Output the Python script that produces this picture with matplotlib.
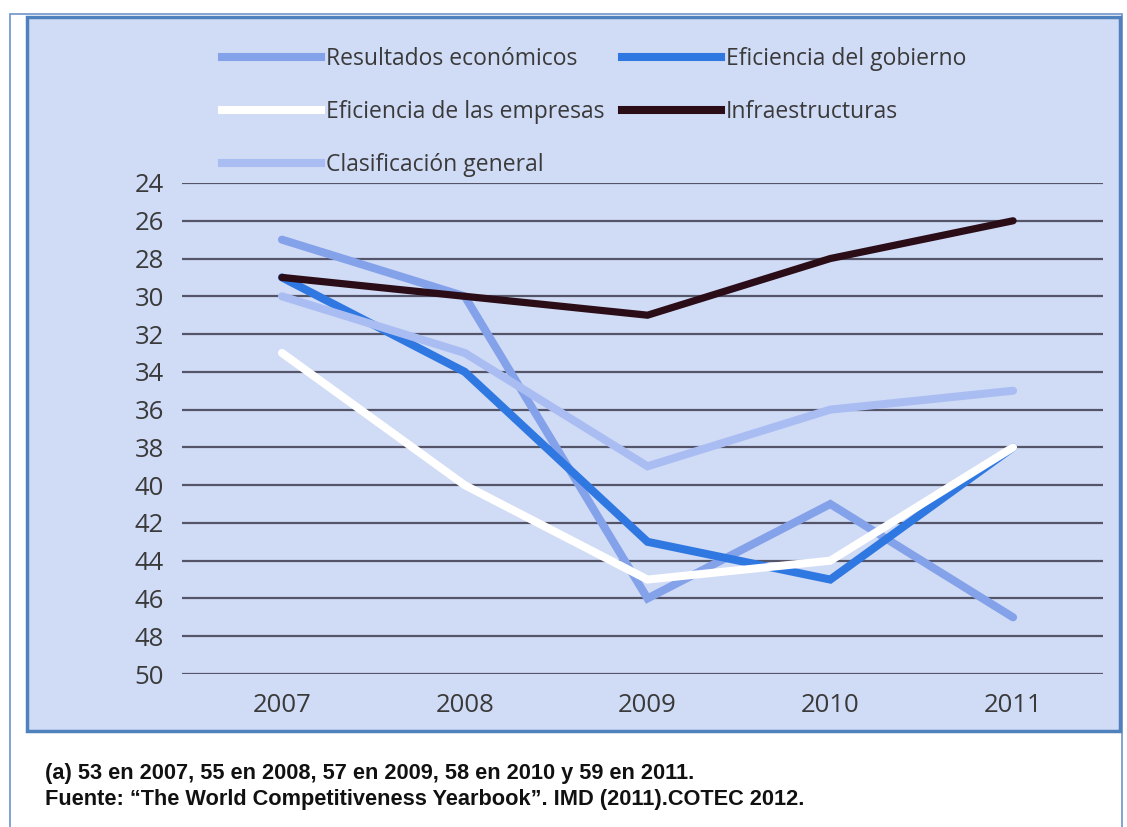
import matplotlib
matplotlib.use("Agg")
import matplotlib.pyplot as plt
from matplotlib.patches import Rectangle
from matplotlib.lines import Line2D

# Ranking data, 2007-2011
years = ["2007", "2008", "2009", "2010", "2011"]
resultados = [27, 30, 46, 41, 47]
gobierno = [29, 34, 43, 45, 38]
empresas = [33, 40, 45, 44, 38]
infraestructuras = [29, 30, 31, 28, 26]
clasificacion = [30, 33, 39, 36, 35]
y_ticks = list(range(24, 51, 2))

W, H = 1127, 827
fig = plt.figure(figsize=(W / 100, H / 100), dpi=100)
fig.patch.set_facecolor("white")


def fx(px):
    return px / W


def fy(py):
    return 1 - py / H


# outer thin frame and the lavender chart panel
fig.patches.append(Rectangle((fx(10), fy(835)), fx(1112), fy(14) - fy(835),
                             transform=fig.transFigure, facecolor="none",
                             edgecolor="#6f93c9", lw=1.2, zorder=-10))
fig.patches.append(Rectangle((fx(27), fy(731)), fx(1093), fy(17) - fy(731),
                             transform=fig.transFigure, facecolor="#d0dbf6",
                             edgecolor="#4f81bd", lw=2.5, zorder=-9))

ax = fig.add_axes([fx(182), fy(674), fx(1103 - 182), fy(183) - fy(674)])
ax.set_facecolor("none")
ax.set_zorder(5)
x = list(range(len(years)))

for t in y_ticks:
    ax.axhline(t, color="#55556a", lw=1.6, zorder=1)

series = [
    ("Resultados económicos", resultados, "#84a2ea", 5.8),
    ("Eficiencia del gobierno", gobierno, "#2f78e2", 5.8),
    ("Eficiencia de las empresas", empresas, "#ffffff", 5.8),
    ("Infraestructuras", infraestructuras, "#2b0d18", 5.2),
    ("Clasificación general", clasificacion, "#aabdf3", 5.8),
]
handles = {}
for name, vals, col, lw in series:
    ln, = ax.plot(x, vals, color=col, lw=lw, solid_capstyle="round",
                  solid_joinstyle="miter", zorder=3, label=name)
    handles[name] = ln

ax.set_ylim(50, 24)
ax.set_xlim(-0.547, 4.492)
ax.set_yticks(y_ticks)
ax.set_yticklabels([str(t) for t in y_ticks], family="Open Sans", fontsize=18.5, color="#3a3a3a")
ax.set_xticks(x)
ax.set_xticklabels(years, family="Open Sans", fontsize=18.5, color="#3a3a3a")
for s in ax.spines.values():
    s.set_visible(False)
ax.tick_params(length=0)
ax.tick_params(axis="y", pad=13)
ax.tick_params(axis="x", pad=14)

# legend filled column-wise: left column then right column
order = ["Resultados económicos", "Eficiencia de las empresas", "Clasificación general",
         "Eficiencia del gobierno", "Infraestructuras"]
leg_handles = [Line2D([], [], color=handles[n].get_color(), lw=5.8) for n in order]
leg = fig.legend(leg_handles, order, ncol=2, loc="upper left",
                 bbox_to_anchor=(fx(222), fy(47)), frameon=False,
                 prop={"family": "Open Sans", "size": 16.5}, handlelength=4.3,
                 handletextpad=0.22, columnspacing=0.8, labelspacing=1.27,
                 borderpad=0, borderaxespad=0)
for t in leg.get_texts():
    t.set_color("#3a3a3a")

fig.text(fx(45), fy(773), "(a) 53 en 2007, 55 en 2008, 57 en 2009, 58 en 2010 y 59 en 2011.",
         family=["Liberation Sans Narrow", "Liberation Sans"], weight="bold", size=15.7,
         va="center", ha="left", color="#111111")
fig.text(fx(45), fy(800), "Fuente: \u201cThe World Competitiveness Yearbook\u201d. IMD (2011).COTEC 2012.",
         family=["Liberation Sans Narrow", "Liberation Sans"], weight="bold", size=15.7,
         va="center", ha="left", color="#111111")

fig.savefig("out.png", dpi=100)
